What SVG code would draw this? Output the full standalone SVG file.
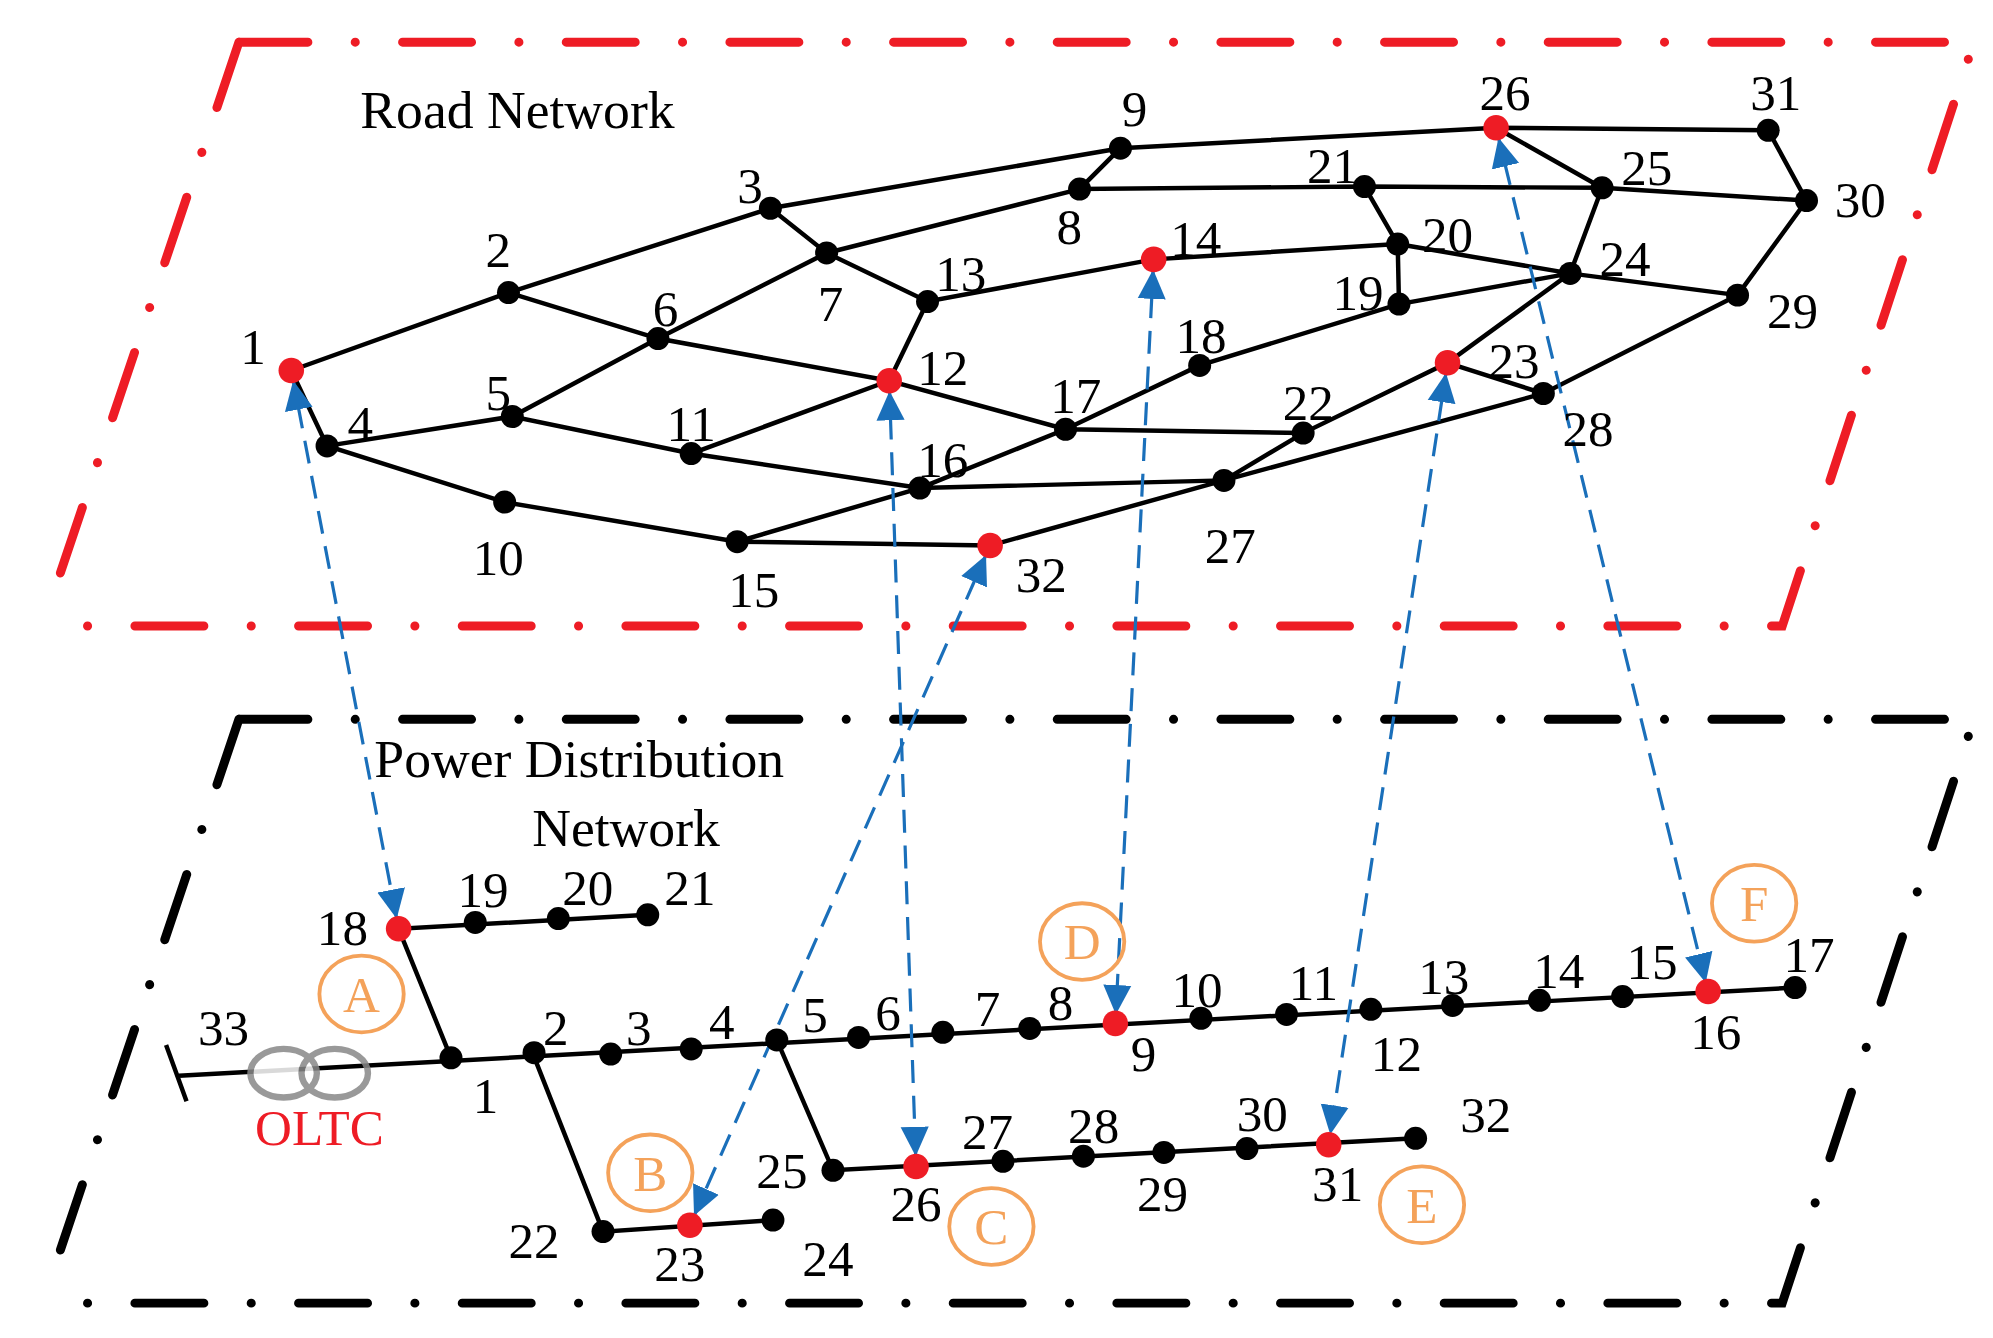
<svg xmlns="http://www.w3.org/2000/svg" width="1993" height="1338" viewBox="0 0 1993 1338">
<style>
.e{stroke:#000;stroke-width:3.5;fill:none}
.n{fill:#000}
.r{fill:#ee1c25}
.t{font-family:"Liberation Serif",serif;font-size:40px;fill:#000;text-anchor:middle}
.c{fill:none;stroke:#f4a25a;stroke-width:3}
.ct{font-family:"Liberation Serif",serif;font-size:40px;fill:#f4a25a;text-anchor:middle}
.a{stroke:#1a6fba;stroke-width:2.5;stroke-dasharray:18 10;fill:none;marker-start:url(#ah);marker-end:url(#ah)}
.box{fill:none;stroke-width:7;stroke-linecap:round;stroke-dasharray:54 37 0.1 37}
</style>
<defs>
<marker id="ah" markerUnits="userSpaceOnUse" markerWidth="34" markerHeight="24" refX="31" refY="11" orient="auto-start-reverse" viewBox="0 0 34 22">
<path d="M0,0 L23,11 L0,22 z" fill="#1a6fba"/>
</marker>
</defs>
<rect width="1993" height="1338" fill="#fff"/>
<g transform="scale(1.2776)">
<g id="frames">
<path class="box" stroke="#ee1c25" d="M187,33 L1545,33 L1395,490 L33,490 M187,33 L40,470"/>
<path class="box" stroke="#000" d="M187,563 L1545,563 L1395,1020 L33,1020 M187,563 L40,1000"/>
</g>
<text x="282" y="100" font-family="Liberation Serif,serif" font-size="42">Road Network</text>
<text x="293" y="608" font-family="Liberation Serif,serif" font-size="42">Power Distribution</text>
<text x="490" y="662" font-family="Liberation Serif,serif" font-size="42" text-anchor="middle">Network</text>
<g id="road-edges">
<path class="e" d="M228,290L398,229L603,163L877,116L1171,100L1384,102L1414,157L1360,231L1208,308L958,376L775,427L577,424L395,393L256,349L228,290
M877,116L845,148L1068,146L1254,147L1414,157 M1171,100L1254,147L1229,214L1133,284L1020,339L958,376
M1068,146L1094,191L1095,238 M1094,191L903,203L726,236L647,198L603,163 M647,198L845,148
M398,229L515,265L696,298L726,236 M515,265L647,198 M401,326L515,265 M256,349L401,326L541,355L720,382L958,376
M541,355L696,298L834,336L1020,339 M577,424L720,382L834,336L939,286L1095,238L1229,214L1360,231 M1094,191L1229,214 M1133,284L1208,308"/>
</g>
<g id="power-edges">
<path class="e" d="M140,842L1405,773 M130,818L146,862 M353,828L312,727L507,716 M418,827L472,964L605,955 M608,814L652,916L1108,891"/>
</g>
<g id="oltc" fill="none" stroke="#888" stroke-width="5" opacity="0.85">
<ellipse cx="222" cy="840" rx="26" ry="19" fill="#fff"/>
<ellipse cx="262" cy="840" rx="26" ry="19"/>
</g>
<text x="250" y="896" font-family="Liberation Serif,serif" font-size="40" fill="#ee1c25" text-anchor="middle">OLTC</text>
<g id="connectors">
<line class="a" x1="228" y1="290" x2="312" y2="727"/>
<line class="a" x1="696" y1="298" x2="717" y2="913"/>
<line class="a" x1="775" y1="427" x2="540" y2="959"/>
<line class="a" x1="903" y1="203" x2="873" y2="802"/>
<line class="a" x1="1133" y1="284" x2="1040" y2="896"/>
<line class="a" x1="1171" y1="100" x2="1337" y2="777"/>
</g>
<g id="road-nodes">
<circle class="r" cx="228" cy="290" r="10"/><circle class="n" cx="398" cy="229" r="9"/><circle class="n" cx="603" cy="163" r="9"/><circle class="n" cx="256" cy="349" r="9"/><circle class="n" cx="401" cy="326" r="9"/><circle class="n" cx="515" cy="265" r="9"/><circle class="n" cx="647" cy="198" r="9"/><circle class="n" cx="845" cy="148" r="9"/><circle class="n" cx="877" cy="116" r="9"/><circle class="n" cx="395" cy="393" r="9"/><circle class="n" cx="541" cy="355" r="9"/><circle class="r" cx="696" cy="298" r="10"/><circle class="n" cx="726" cy="236" r="9"/><circle class="r" cx="903" cy="203" r="10"/><circle class="n" cx="577" cy="424" r="9"/><circle class="n" cx="720" cy="382" r="9"/><circle class="n" cx="834" cy="336" r="9"/><circle class="n" cx="939" cy="286" r="9"/><circle class="n" cx="1095" cy="238" r="9"/><circle class="n" cx="1094" cy="191" r="9"/><circle class="n" cx="1068" cy="146" r="9"/><circle class="n" cx="1020" cy="339" r="9"/><circle class="r" cx="1133" cy="284" r="10"/><circle class="n" cx="1229" cy="214" r="9"/><circle class="n" cx="1254" cy="147" r="9"/><circle class="r" cx="1171" cy="100" r="10"/><circle class="n" cx="958" cy="376" r="9"/><circle class="n" cx="1208" cy="308" r="9"/><circle class="n" cx="1360" cy="231" r="9"/><circle class="n" cx="1414" cy="157" r="9"/><circle class="n" cx="1384" cy="102" r="9"/><circle class="r" cx="775" cy="427" r="10"/>
</g>
<g id="road-labels" class="t">
<text x="198" y="285">1</text><text x="390" y="209">2</text><text x="587" y="159">3</text><text x="282" y="345">4</text><text x="390" y="321">5</text><text x="521" y="255">6</text><text x="650" y="251">7</text><text x="837" y="191">8</text><text x="888" y="99">9</text><text x="390" y="450">10</text><text x="541" y="345">11</text><text x="738" y="301">12</text><text x="752" y="228">13</text><text x="936" y="200">14</text><text x="590" y="475">15</text><text x="738" y="373">16</text><text x="842" y="323">17</text><text x="940" y="276">18</text><text x="1063" y="243">19</text><text x="1133" y="197">20</text><text x="1043" y="143">21</text><text x="1024" y="329">22</text><text x="1185" y="296">23</text><text x="1272" y="216">24</text><text x="1289" y="145">25</text><text x="1178" y="86">26</text><text x="963" y="441">27</text><text x="1243" y="349">28</text><text x="1403" y="257">29</text><text x="1456" y="170">30</text><text x="1390" y="86">31</text><text x="815" y="463">32</text>
</g>
<g id="power-nodes">
<circle class="n" cx="353" cy="828" r="9"/><circle class="n" cx="418" cy="824" r="9"/><circle class="n" cx="478" cy="825" r="9"/><circle class="n" cx="541" cy="821" r="9"/><circle class="n" cx="608" cy="814" r="9"/><circle class="n" cx="672" cy="812" r="9"/><circle class="n" cx="738" cy="808" r="9"/><circle class="n" cx="806" cy="805" r="9"/><circle class="r" cx="873" cy="801" r="10"/><circle class="n" cx="940" cy="797" r="9"/><circle class="n" cx="1007" cy="794" r="9"/><circle class="n" cx="1073" cy="790" r="9"/><circle class="n" cx="1137" cy="787" r="9"/><circle class="n" cx="1205" cy="783" r="9"/><circle class="n" cx="1270" cy="780" r="9"/><circle class="r" cx="1337" cy="776" r="10"/><circle class="n" cx="1405" cy="773" r="9"/>
<circle class="r" cx="312" cy="727" r="10"/><circle class="n" cx="372" cy="722" r="9"/><circle class="n" cx="437" cy="719" r="9"/><circle class="n" cx="507" cy="716" r="9"/>
<circle class="n" cx="472" cy="964" r="9"/><circle class="r" cx="540" cy="959" r="10"/><circle class="n" cx="605" cy="955" r="9"/>
<circle class="n" cx="652" cy="916" r="9"/><circle class="r" cx="717" cy="913" r="10"/><circle class="n" cx="785" cy="909" r="9"/><circle class="n" cx="848" cy="905" r="9"/><circle class="n" cx="911" cy="902" r="9"/><circle class="n" cx="976" cy="899" r="9"/><circle class="r" cx="1040" cy="896" r="10"/><circle class="n" cx="1108" cy="891" r="9"/>
</g>
<g id="power-labels" class="t">
<text x="175" y="818">33</text><text x="380" y="871">1</text><text x="435" y="818">2</text><text x="500" y="818">3</text><text x="565" y="813">4</text><text x="638" y="808">5</text><text x="695" y="806">6</text><text x="773" y="803">7</text><text x="830" y="798">8</text><text x="895" y="838">9</text><text x="937" y="788">10</text><text x="1028" y="783">11</text><text x="1093" y="838">12</text><text x="1130" y="778">13</text><text x="1220" y="773">14</text><text x="1293" y="766">15</text><text x="1343" y="821">16</text><text x="1416" y="761">17</text><text x="268" y="740">18</text><text x="378" y="710">19</text><text x="460" y="708">20</text><text x="540" y="708">21</text><text x="418" y="985">22</text><text x="532" y="1003">23</text><text x="648" y="999">24</text><text x="612" y="930">25</text><text x="717" y="956">26</text><text x="773" y="899">27</text><text x="856" y="895">28</text><text x="910" y="948">29</text><text x="988" y="885">30</text><text x="1047" y="940">31</text><text x="1163" y="886">32</text>
</g>
<g id="markers">
<ellipse class="c" cx="283" cy="778" rx="33" ry="30"/><text class="ct" x="283" y="792">A</text>
<ellipse class="c" cx="509" cy="918" rx="33" ry="30"/><text class="ct" x="509" y="932">B</text>
<ellipse class="c" cx="776" cy="960" rx="33" ry="30"/><text class="ct" x="776" y="974">C</text>
<ellipse class="c" cx="847" cy="737" rx="33" ry="30"/><text class="ct" x="847" y="751">D</text>
<ellipse class="c" cx="1113" cy="943" rx="33" ry="30"/><text class="ct" x="1113" y="957">E</text>
<ellipse class="c" cx="1373" cy="707" rx="33" ry="30"/><text class="ct" x="1373" y="721">F</text>
</g>
</g>
</svg>
